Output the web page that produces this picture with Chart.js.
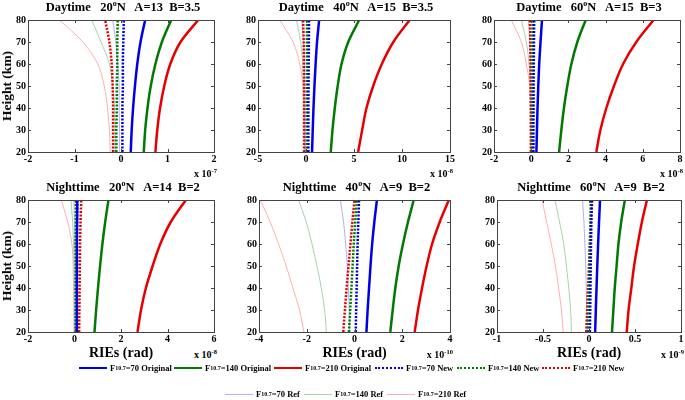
<!DOCTYPE html>
<html>
<head>
<meta charset="utf-8">
<script src="https://cdn.jsdelivr.net/npm/chart.js@4"></script>
<style>
  body { margin: 0; width: 685px; height: 400px; background: #fff; position: relative; overflow: hidden;
         font-family: "Liberation Serif", "Times New Roman", serif; font-weight: bold; color: #000; }
  canvas { position: absolute; }
  .txt { position: absolute; white-space: nowrap; transform: translate(-50%, -50%); }
  .title { font-size: 12.5px; }
  .title sup { font-size: 8px; vertical-align: 5px; }
  .ylab { font-size: 13.5px; transform: translate(-50%, -50%) rotate(-90deg); }
  .xlab { font-size: 14px; }
  .expo { font-size: 10px; }
  .expo sup { font-size: 6.5px; vertical-align: 4px; }
  .leg { position: absolute; display: flex; align-items: center; font-size: 8.5px; white-space: nowrap; transform: translateY(-50%); }
  .leg .sample { width: 28px; margin-right: 3px; }
  .leg sub { font-size: 6px; vertical-align: -3px; }
</style>
</head>
<body>
<script>
// heights (km) shared by every profile
const heights = [20, 30, 40, 50, 60, 70, 80];

// Daytime 20N  (x 1e-7)
const day20_o70  = [0.21, 0.23, 0.26, 0.30, 0.35, 0.42, 0.52];
const day20_o140 = [0.49, 0.52, 0.57, 0.64, 0.74, 0.88, 1.08];
const day20_o210 = [0.74, 0.78, 0.84, 0.93, 1.06, 1.28, 1.66];
const day20_n70  = [0.03, 0.03, 0.03, 0.04, 0.04, 0.05, 0.06];
const day20_n140 = [-0.10, -0.10, -0.09, -0.09, -0.08, -0.08, -0.07];
const day20_n210 = [-0.17, -0.17, -0.17, -0.18, -0.20, -0.25, -0.34];
const day20_r70  = [-0.03, -0.03, -0.04, -0.04, -0.07, -0.11, -0.18];
const day20_r140 = [-0.13, -0.13, -0.14, -0.18, -0.25, -0.43, -0.63];
const day20_r210 = [-0.23, -0.25, -0.29, -0.36, -0.50, -0.82, -1.32];

// Daytime 40N  (x 1e-8)
const day40_o70  = [0.63, 0.70, 0.78, 0.88, 1.00, 1.15, 1.37];
const day40_o140 = [2.58, 2.76, 3.00, 3.30, 3.70, 4.40, 5.54];
const day40_o210 = [5.43, 5.85, 6.30, 7.00, 7.90, 9.10, 10.8];
const day40_n70  = [0.25, 0.25, 0.25, 0.27, 0.28, 0.30, 0.32];
const day40_n140 = [0.10, 0.10, 0.10, 0.10, 0.10, 0.10, 0.12];
const day40_n210 = [-0.20, -0.20, -0.20, -0.20, -0.22, -0.24, -0.30];
const day40_r70  = [-0.05, -0.07, -0.09, -0.12, -0.17, -0.25, -0.45];
const day40_r140 = [-0.15, -0.17, -0.20, -0.25, -0.35, -0.55, -1.00];
const day40_r210 = [-0.15, -0.18, -0.22, -0.32, -0.65, -1.35, -2.74];

// Daytime 60N  (x 1e-8)
const day60_o70  = [0.28, 0.31, 0.34, 0.38, 0.43, 0.50, 0.58];
const day60_o140 = [1.50, 1.62, 1.76, 1.94, 2.16, 2.48, 2.93];
const day60_o210 = [3.50, 3.72, 4.04, 4.45, 4.94, 5.65, 6.58];
const day60_n70  = [0.12, 0.12, 0.13, 0.13, 0.14, 0.15, 0.16];
const day60_n140 = [0.06, 0.06, 0.06, 0.07, 0.07, 0.07, 0.08];
const day60_n210 = [-0.02, -0.02, -0.02, -0.03, -0.04, -0.05, -0.07];
const day60_r70  = [0.00, -0.01, -0.01, -0.02, -0.04, -0.07, -0.14];
const day60_r140 = [-0.03, -0.04, -0.05, -0.07, -0.12, -0.26, -0.53];
const day60_r210 = [-0.03, -0.03, -0.04, -0.08, -0.26, -0.53, -1.07];

// Nighttime 20N  (x 1e-8)
const night20_o70  = [0.10, 0.10, 0.10, 0.10, 0.10, 0.11, 0.12];
const night20_o140 = [0.86, 0.93, 1.01, 1.10, 1.20, 1.32, 1.46];
const night20_o210 = [2.71, 2.86, 3.07, 3.36, 3.69, 4.14, 4.79];
const night20_n70  = [0.10, 0.10, 0.10, 0.11, 0.11, 0.11, 0.12];
const night20_n140 = [0.05, 0.05, 0.05, 0.05, 0.05, 0.06, 0.06];
const night20_n210 = [0.20, 0.21, 0.22, 0.23, 0.24, 0.26, 0.29];
const night20_r70  = [0.02, 0.02, 0.02, 0.02, 0.01, 0.00, -0.03];
const night20_r140 = [0.00, 0.00, -0.01, -0.02, -0.04, -0.08, -0.15];
const night20_r210 = [-0.03, -0.03, -0.04, -0.06, -0.11, -0.29, -0.57];

// Nighttime 40N  (x 1e-10)
const night40_o70  = [0.50, 0.55, 0.61, 0.67, 0.74, 0.83, 0.94];
const night40_o140 = [1.50, 1.60, 1.71, 1.85, 2.03, 2.24, 2.48];
const night40_o210 = [2.52, 2.66, 2.83, 3.02, 3.25, 3.57, 3.95];
const night40_n70  = [0.05, 0.07, 0.09, 0.11, 0.13, 0.16, 0.19];
const night40_n140 = [-0.23, -0.18, -0.13, -0.08, -0.03, 0.03, 0.10];
const night40_n210 = [-0.47, -0.40, -0.33, -0.25, -0.17, -0.09, 0.00];
const night40_r70  = [-0.20, -0.22, -0.26, -0.30, -0.37, -0.46, -0.59];
const night40_r140 = [-1.18, -1.25, -1.39, -1.57, -1.78, -2.02, -2.34];
const night40_r210 = [-2.12, -2.30, -2.58, -2.86, -3.18, -3.53, -3.95];

// Nighttime 60N  (x 1e-9)
const night60_o70  = [0.067, 0.074, 0.082, 0.090, 0.099, 0.109, 0.120];
const night60_o140 = [0.25, 0.265, 0.28, 0.30, 0.32, 0.35, 0.39];
const night60_o210 = [0.41, 0.43, 0.46, 0.49, 0.53, 0.575, 0.63];
const night60_n70  = [0.010, 0.013, 0.016, 0.019, 0.022, 0.026, 0.030];
const night60_n140 = [-0.010, -0.005, 0.000, 0.005, 0.010, 0.015, 0.020];
const night60_n210 = [-0.030, -0.020, -0.010, 0.000, 0.010, 0.020, 0.035];
const night60_r70  = [-0.020, -0.025, -0.030, -0.035, -0.045, -0.055, -0.070];
const night60_r140 = [-0.19, -0.20, -0.22, -0.245, -0.275, -0.32, -0.37];
const night60_r210 = [-0.28, -0.30, -0.33, -0.365, -0.41, -0.46, -0.51];

const BLUE = '#0000e6', GREEN = '#007a00', RED = '#e60000';
const BLUE_REF = '#b0b0ff', GREEN_REF = '#a6d6a6', RED_REF = '#ffb0b0';

// plot-area boxes in page pixels
const panels = [
  { title: 'Daytime&nbsp;&nbsp; 20<sup>o</sup>N&nbsp;&nbsp; A=13&nbsp; B=3.5', box: [28, 19, 214, 152], x: [-2, 2, 1], expo: '-7',
    s: [day20_o70, day20_o140, day20_o210, day20_n70, day20_n140, day20_n210, day20_r70, day20_r140, day20_r210] },
  { title: 'Daytime&nbsp;&nbsp; 40<sup>o</sup>N&nbsp;&nbsp; A=15&nbsp; B=3.5', box: [258, 19, 450, 152], x: [-5, 15, 5], expo: '-8',
    s: [day40_o70, day40_o140, day40_o210, day40_n70, day40_n140, day40_n210, day40_r70, day40_r140, day40_r210] },
  { title: 'Daytime&nbsp;&nbsp; 60<sup>o</sup>N&nbsp;&nbsp; A=15&nbsp; B=3', box: [494, 19, 680, 152], x: [-2, 8, 2], expo: '-8',
    s: [day60_o70, day60_o140, day60_o210, day60_n70, day60_n140, day60_n210, day60_r70, day60_r140, day60_r210] },
  { title: 'Nighttime&nbsp;&nbsp; 20<sup>o</sup>N&nbsp;&nbsp; A=14&nbsp; B=2', box: [28, 199, 214, 332], x: [-2, 6, 2], expo: '-8',
    s: [night20_o70, night20_o140, night20_o210, night20_n70, night20_n140, night20_n210, night20_r70, night20_r140, night20_r210] },
  { title: 'Nighttime&nbsp;&nbsp; 40<sup>o</sup>N&nbsp;&nbsp; A=9&nbsp; B=2', box: [259, 199, 450, 332], x: [-4, 4, 2], expo: '-10',
    s: [night40_o70, night40_o140, night40_o210, night40_n70, night40_n140, night40_n210, night40_r70, night40_r140, night40_r210] },
  { title: 'Nighttime&nbsp;&nbsp; 60<sup>o</sup>N&nbsp;&nbsp; A=9&nbsp; B=2', box: [497, 199, 681, 332], x: [-1, 1, 0.5], expo: '-9',
    s: [night60_o70, night60_o140, night60_o210, night60_n70, night60_n140, night60_n210, night60_r70, night60_r140, night60_r210] },
];

const styles = [
  { c: BLUE, w: 2.5, order: 2 }, { c: GREEN, w: 2.5, order: 2 }, { c: RED, w: 2.5, order: 2 },
  { c: BLUE, w: 2.5, dash: [2, 1.5], order: 1 }, { c: GREEN, w: 2.5, dash: [2, 1.5], order: 1 }, { c: RED, w: 2.5, dash: [2, 1.5], order: 1 },
  { c: BLUE_REF, w: 1, order: 3 }, { c: GREEN_REF, w: 1, order: 3 }, { c: RED_REF, w: 1, order: 3 },
];

// frame + inward ticks like the matlab box
const frame = {
  id: 'frame',
  afterDraw(chart) {
    const { ctx, chartArea: a, scales } = chart;
    ctx.save();
    ctx.strokeStyle = '#444';
    ctx.lineWidth = 1;
    ctx.beginPath();
    scales.x.ticks.forEach(t => {
      const px = Math.round(scales.x.getPixelForValue(t.value)) + 0.5;
      ctx.moveTo(px, a.bottom); ctx.lineTo(px, a.bottom - 3);
      ctx.moveTo(px, a.top); ctx.lineTo(px, a.top + 3);
    });
    scales.y.ticks.forEach(t => {
      const py = Math.round(scales.y.getPixelForValue(t.value)) + 0.5;
      ctx.moveTo(a.left, py); ctx.lineTo(a.left + 3, py);
      ctx.moveTo(a.right, py); ctx.lineTo(a.right - 3, py);
    });
    ctx.stroke();
    ctx.strokeRect(Math.round(a.left) + 0.5, Math.round(a.top) + 0.5, Math.round(a.right - a.left), Math.round(a.bottom - a.top));
    ctx.restore();
  }
};

const tickFont = { family: '"Liberation Serif", "Times New Roman", serif', size: 10, weight: 'bold' };
const ML = 30, MT = 7, MR = 9, MB = 16;

function addText(cls, html, x, y) {
  const d = document.createElement('div');
  d.className = 'txt ' + cls;
  d.innerHTML = html;
  d.style.left = x + 'px';
  d.style.top = y + 'px';
  document.body.appendChild(d);
}

panels.forEach((p, i) => {
  const [l, t, r, b] = p.box;
  const cv = document.createElement('canvas');
  cv.style.left = (l - ML) + 'px';
  cv.style.top = (t - MT) + 'px';
  cv.width = r - l + ML + MR;
  cv.height = b - t + MT + MB;
  document.body.appendChild(cv);

  new Chart(cv, {
    type: 'line',
    data: {
      datasets: p.s.map((vals, k) => ({
        data: vals.map((v, j) => ({ x: v, y: heights[j] })),
        borderColor: styles[k].c,
        borderWidth: styles[k].w,
        borderDash: styles[k].dash || [],
        order: styles[k].order,
        pointRadius: 0,
        cubicInterpolationMode: 'monotone',
        fill: false,
      })),
    },
    options: {
      indexAxis: 'y',
      responsive: false,
      animation: false,
      layout: { padding: { top: MT, right: MR, left: 0, bottom: 0 } },
      plugins: { legend: { display: false }, tooltip: { enabled: false } },
      scales: {
        x: {
          type: 'linear', min: p.x[0], max: p.x[1],
          afterFit: s => { s.height = MB; },
          ticks: { stepSize: p.x[2], color: '#000', font: tickFont, padding: 1, maxRotation: 0,
                   callback: v => String(+v.toFixed(2)) },
          grid: { display: false, drawTicks: false, tickLength: 0 },
          border: { display: false },
        },
        y: {
          type: 'linear', min: 20, max: 80,
          afterFit: s => { s.width = ML; },
          ticks: { stepSize: 10, color: '#000', font: tickFont, padding: 2 },
          grid: { display: false, drawTicks: false, tickLength: 0 },
          border: { display: false },
        },
      },
    },
    plugins: [frame],
  });

  const cx = (l + r) / 2;
  addText('title', p.title, cx + 2, t - 12);
  const ex = document.createElement('div');
  ex.className = 'expo';
  ex.style.position = 'absolute';
  ex.style.right = (685 - r - 3) + 'px';
  ex.style.top = (i < 3 ? b + 15 : b + 16) + 'px';
  ex.innerHTML = 'x 10<sup>' + p.expo + '</sup>';
  document.body.appendChild(ex);
  if (i === 0 || i === 3) addText('ylab', 'Height (km)', 7, (t + b) / 2);
  if (i >= 3) addText('xlab', 'RIEs (rad)', cx, 353);
});

// legend entries: [style, colour, width, label, line-left, centre-y]
const legendItems = [
  ['solid', BLUE, 2.5, '=70 Original', 79, 368],
  ['solid', GREEN, 2.5, '=140 Original', 174, 368],
  ['solid', RED, 2.5, '=210 Original', 274, 368],
  ['dotted', BLUE, 2.5, '=70 New', 375, 368],
  ['dotted', GREEN, 2.5, '=140 New', 457, 368],
  ['dotted', RED, 2.5, '=210 New', 542, 368],
  ['solid', BLUE_REF, 1, '=70 Ref', 225, 394],
  ['solid', GREEN_REF, 1, '=140 Ref', 304, 394],
  ['solid', RED_REF, 1, '=210 Ref', 387, 394],
];
legendItems.forEach(([st, c, w, txt, x, y]) => {
  const d = document.createElement('div');
  d.className = 'leg';
  d.style.left = x + 'px';
  d.style.top = y + 'px';
  d.innerHTML = `<span class="sample" style="border-top:${w}px ${st} ${c}"></span>F<sub>10.7</sub>${txt}`;
  document.body.appendChild(d);
});
</script>
</body>
</html>
